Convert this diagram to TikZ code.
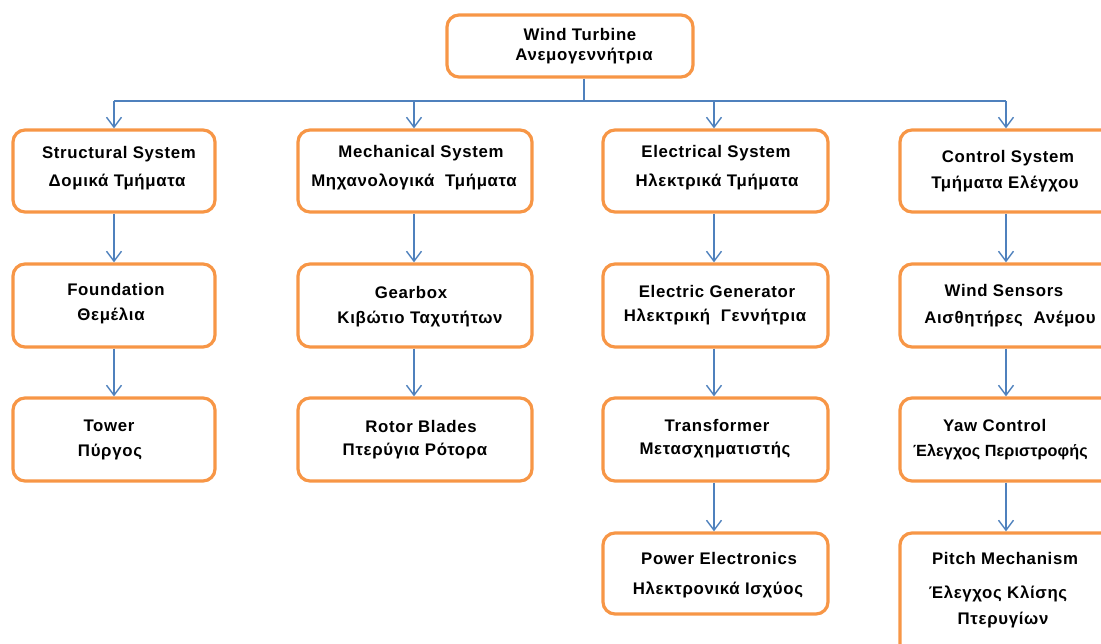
\documentclass[tikz,border=0pt]{standalone}
\usepackage{fontspec}
\setmainfont{Liberation Sans}[LetterSpace=4]
\usetikzlibrary{arrows.meta}
\definecolor{boxorange}{HTML}{F79646}
\definecolor{lineblue}{HTML}{4F81BD}
\tikzset{
  box/.style={draw=boxorange, line width=3.2pt, rounded corners=12pt, fill=white, inner sep=0pt},
  txt/.style={font=\fontsize{16.8}{19}\selectfont\bfseries, inner sep=0pt, anchor=center},
  conn/.style={draw=lineblue, line width=1.4pt},
  arr/.style={conn, -{Straight Barb[length=10pt,width=15pt]}},
}
\begin{document}
\begin{tikzpicture}[x=1pt,y=-1pt]
\useasboundingbox (0,0) rectangle (1101,644);
\clip (0,0) rectangle (1101,644);
% boxes
\node[box, minimum width=246pt, minimum height=62pt] (top) at (570,46) {};
\node[box, minimum width=202pt, minimum height=82pt] (s1) at (114,171) {};
\node[box, minimum width=202pt, minimum height=83pt] (s2) at (114,305.5) {};
\node[box, minimum width=202pt, minimum height=83pt] (s3) at (114,439.5) {};
\node[box, minimum width=234pt, minimum height=82pt] (m1) at (415,171) {};
\node[box, minimum width=234pt, minimum height=83pt] (m2) at (415,305.5) {};
\node[box, minimum width=234pt, minimum height=83pt] (m3) at (415,439.5) {};
\node[box, minimum width=225pt, minimum height=82pt] (e1) at (715.5,171) {};
\node[box, minimum width=225pt, minimum height=83pt] (e2) at (715.5,305.5) {};
\node[box, minimum width=225pt, minimum height=83pt] (e3) at (715.5,439.5) {};
\node[box, minimum width=225pt, minimum height=81pt] (e4) at (715.5,573.5) {};
\node[box, minimum width=215pt, minimum height=82pt] (c1) at (1007.5,171) {};
\node[box, minimum width=215pt, minimum height=83pt] (c2) at (1007.5,305.5) {};
\node[box, minimum width=215pt, minimum height=83pt] (c3) at (1007.5,439.5) {};
\node[box, minimum width=215pt, minimum height=130pt] (c4) at (1007.5,598) {};
% texts
\node[txt] (tTop1) at (580,34) {Wind Turbine};
\node[txt] (tTop2) at (584,56) {Ανεμογεννήτρια};
\node[txt] (ts1a) at (119,154) {Structural System};
\node[txt] (ts1b) at (117,182) {Δομικά Τμήματα};
\node[txt] (ts2a) at (116,289) {Foundation};
\node[txt] (ts2b) at (111,316) {Θεμέλια};
\node[txt] (ts3a) at (109,426) {Tower};
\node[txt] (ts3b) at (110,452) {Πύργος};
\node[txt] (tm1a) at (421,153) {Mechanical System};
\node[txt] (tm1b) at (414,182) {Μηχανολογικά\ \ Τμήματα};
\node[txt] (tm2a) at (411,292) {Gearbox};
\node[txt] (tm2b) at (420,319) {Κιβώτιο Ταχυτήτων};
\node[txt] (tm3a) at (421,426) {Rotor Blades};
\node[txt] (tm3b) at (415,451) {Πτερύγια Ρότορα};
\node[txt] (te1a) at (716,153) {Electrical System};
\node[txt] (te1b) at (717,182) {Ηλεκτρικά Τμήματα};
\node[txt] (te2a) at (717,291) {Electric Generator};
\node[txt] (te2b) at (715,317) {Ηλεκτρική\ \ Γεννήτρια};
\node[txt] (te3a) at (717,425) {Transformer};
\node[txt] (te3b) at (715,450) {Μετασχηματιστής};
\node[txt] (te4a) at (719,558) {Power Electronics};
\node[txt] (te4b) at (718,590) {Ηλεκτρονικά Ισχύος};
\node[txt] (tc1a) at (1008,158) {Control System};
\node[txt] (tc1b) at (1005,184) {Τμήματα Ελέγχου};
\node[txt] (tc2a) at (1004,290) {Wind Sensors};
\node[txt] (tc2b) at (1010,319) {Αισθητήρες\ \ Ανέμου};
\node[txt, anchor=west] (tc3a) at (943,425) {Yaw Control};
\node[txt, anchor=west, font=\fontsize{16.2}{19}\selectfont\bfseries\addfontfeatures{LetterSpace=0.5}] (tc3b) at (913,452) {Έλεγχος Περιστροφής};
\node[txt] (tc4a) at (1005,558) {Pitch Mechanism};
\node[txt] (tc4b) at (998,594) {Έλεγχος\ Κλίσης};
\node[txt] (tc4c) at (1003,620) {Πτερυγίων};
% bus
\coordinate (busTop) at (584,101);
\coordinate (b1) at (114,101);
\coordinate (b2) at (414,101);
\coordinate (b3) at (714,101);
\coordinate (b4) at (1006,101);
\draw[conn] (top.south -| busTop) -- (busTop);
\draw[conn] (b1) -- (b4);
\draw[arr] (b1) -- (b1 |- s1.north);
\draw[arr] (b2) -- (b2 |- m1.north);
\draw[arr] (b3) -- (b3 |- e1.north);
\draw[arr] (b4) -- (b4 |- c1.north);
% chains
\draw[arr] (s1.south -| b1) -- (s2.north -| b1);
\draw[arr] (s2.south -| b1) -- (s3.north -| b1);
\draw[arr] (m1.south -| b2) -- (m2.north -| b2);
\draw[arr] (m2.south -| b2) -- (m3.north -| b2);
\draw[arr] (e1.south -| b3) -- (e2.north -| b3);
\draw[arr] (e2.south -| b3) -- (e3.north -| b3);
\draw[arr] (e3.south -| b3) -- (e4.north -| b3);
\draw[arr] (c1.south -| b4) -- (c2.north -| b4);
\draw[arr] (c2.south -| b4) -- (c3.north -| b4);
\draw[arr] (c3.south -| b4) -- (c4.north -| b4);
\end{tikzpicture}
\end{document}
